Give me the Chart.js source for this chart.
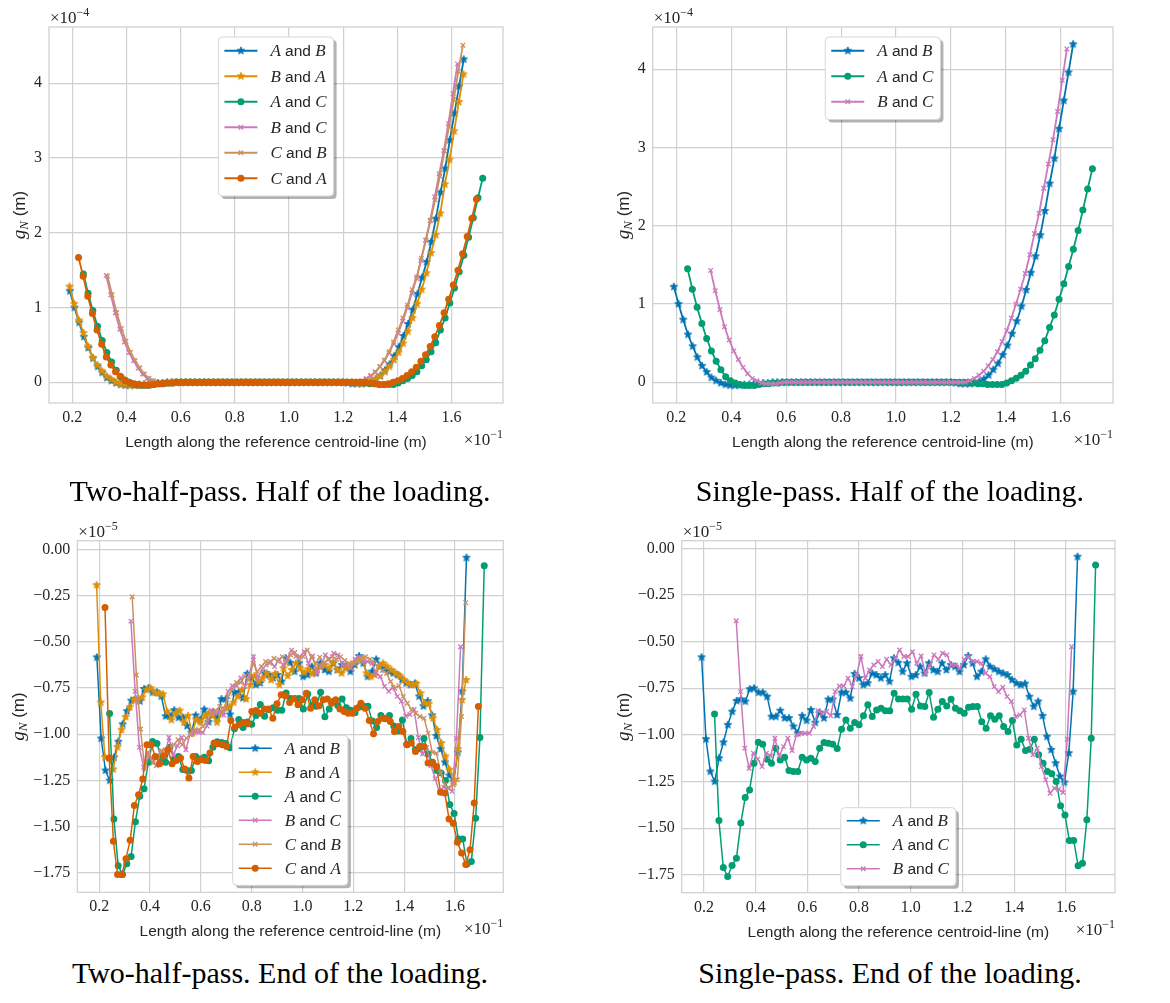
<!DOCTYPE html>
<html lang="en">
  <head>
    <meta charset="UTF-8" />
    <title>Normal gap along the centroid-line</title>
    <script src="https://cdn.jsdelivr.net/npm/chart.js"></script>
    <style>
      body { margin: 0; width: 1170px; height: 1003px; position: relative; background: #fff; overflow: hidden; }
      canvas { position: absolute; }
      .caption {
        position: absolute; width: 600px; text-align: center; white-space: nowrap;
        font: 30px 'Liberation Serif', serif; line-height: 30px; color: #000;
      }
    </style>
  </head>
  <body>
    <canvas id="twoHalfMid" width="585" height="470" style="left:0;top:0"></canvas>
    <canvas id="singleMid" width="585" height="470" style="left:585px;top:0"></canvas>
    <canvas id="twoHalfEnd" width="585" height="445" style="left:0;top:505px"></canvas>
    <canvas id="singleEnd" width="585" height="445" style="left:585px;top:505px"></canvas>
    <div class="caption" style="left:-20px;top:476px">Two-half-pass. Half of the loading.</div>
    <div class="caption" style="left:590px;top:476px">Single-pass. Half of the loading.</div>
    <div class="caption" style="left:-20px;top:958px">Two-half-pass. End of the loading.</div>
    <div class="caption" style="left:590px;top:958px">Single-pass. End of the loading.</div>

    <script>
      // first and last node of each contact pair along the centroid-line (x 1e-1 m)
      const spanAB = [0.191, 1.645];
      const spanBA = [0.190, 1.644];
      const spanAC = [0.241, 1.715];
      const spanBC = [0.325, 1.622];
      const spanCB = [0.330, 1.642];
      const spanCA = [0.223, 1.692];

      // normal gap g_N at half of the loading (x 1e-4 m), nodes evenly spaced over the span
      const midAB = [
        1.22, 1.00, 0.80, 0.61, 0.46, 0.32, 0.21, 0.13, 0.06, 0.02, -0.01, -0.03, -0.04,
        -0.04, -0.04, -0.03, -0.03, -0.02, -0.02, -0.01, -0.01,
        0, 0, 0, 0, 0, 0, 0, 0, 0, 0, 0, 0, 0,
        0, 0, 0, 0, 0, 0, 0, 0, 0, 0, 0, 0, 0,
        0, 0, 0, 0, 0, 0, 0, 0, 0, 0, 0, 0, 0,
        -0.01, -0.02, -0.02, -0.02, -0.01, 0.01, 0.04, 0.09, 0.16, 0.24, 0.35, 0.47, 0.62,
        0.78, 0.97, 1.18, 1.40, 1.61, 1.88, 2.19, 2.54, 2.86, 3.24, 3.60, 3.96, 4.32,
      ];
      const midBA = [
        1.28, 1.05, 0.83, 0.66, 0.48, 0.33, 0.23, 0.15, 0.08, 0.04, 0.00, -0.02, -0.03, -0.04,
        -0.04, -0.04, -0.03, -0.03, -0.02, -0.02, -0.01, -0.01,
        0, 0, 0, 0, 0, 0, 0, 0, 0, 0,
        0, 0, 0, 0, 0, 0, 0, 0, 0, 0,
        0, 0, 0, 0, 0, 0, 0, 0, 0, 0,
        0, 0, 0, 0, 0, 0, 0, 0, 0, 0,
        -0.01, -0.02, -0.01, 0.01, 0.04, 0.08, 0.14, 0.21, 0.30, 0.40, 0.52, 0.68,
        0.86, 1.05, 1.24, 1.46, 1.73, 1.97, 2.26, 2.65, 2.98, 3.36, 3.75, 4.12,
      ];
      const midAC = [
        1.45, 1.19, 0.96, 0.75, 0.56, 0.40, 0.27, 0.16, 0.07, 0.02,
        -0.01, -0.03, -0.04, -0.04, -0.04, -0.03, -0.02, -0.02, -0.01, -0.01,
        0, 0, 0, 0, 0, 0, 0, 0, 0, 0,
        0, 0, 0, 0, 0, 0, 0, 0, 0, 0,
        0, 0, 0, 0, 0, 0, 0, 0, 0, 0,
        0, 0, 0, 0, 0, 0, 0, 0, 0, 0,
        -0.01, -0.02, -0.02, -0.03, -0.03, -0.03, -0.03, -0.01, 0.02, 0.05, 0.09, 0.14, 0.22,
        0.30, 0.41, 0.53, 0.70, 0.86, 1.06, 1.26, 1.48, 1.70, 1.94, 2.20, 2.47, 2.73,
      ];
      const midBC = [
        1.43, 1.17, 0.93, 0.71, 0.54, 0.40, 0.29, 0.19, 0.11, 0.05, 0.02, -0.01,
        -0.02, -0.02, -0.02, -0.01,
        0, 0, 0, 0, 0, 0, 0, 0, 0, 0,
        0, 0, 0, 0, 0, 0, 0, 0, 0, 0,
        0, 0, 0, 0, 0, 0, 0, 0, 0, 0,
        0, 0, 0, 0, 0, 0, 0, 0, 0, 0,
        0.02, 0.05, 0.09, 0.14, 0.21, 0.29, 0.39, 0.52, 0.66, 0.82, 1.00,
        1.19, 1.39, 1.63, 1.90, 2.16, 2.48, 2.79, 3.10, 3.46, 3.86, 4.26,
      ];
      const midCB = [
        1.42, 1.17, 0.93, 0.72, 0.55, 0.40, 0.29, 0.19, 0.11, 0.05, 0.02, -0.01,
        -0.02, -0.02, -0.02, -0.01,
        0, 0, 0, 0, 0, 0, 0, 0, 0, 0,
        0, 0, 0, 0, 0, 0, 0, 0, 0, 0,
        0, 0, 0, 0, 0, 0, 0, 0, 0, 0,
        0, 0, 0, 0, 0, 0, 0, 0, 0, 0,
        0.03, 0.08, 0.13, 0.21, 0.30, 0.41, 0.54, 0.70, 0.86, 1.03, 1.24,
        1.41, 1.66, 1.90, 2.17, 2.44, 2.76, 3.09, 3.42, 3.78, 4.16, 4.51,
      ];
      const midCA = [
        1.67, 1.42, 1.15, 0.92, 0.70, 0.51, 0.34, 0.23, 0.14, 0.08, 0.03, 0.00,
        -0.02, -0.03, -0.04, -0.04, -0.03, -0.02, -0.02, -0.01, -0.01,
        0, 0, 0, 0, 0, 0, 0, 0, 0, 0, 0, 0, 0, 0,
        0, 0, 0, 0, 0, 0, 0, 0, 0, 0, 0, 0, 0, 0,
        0, 0, 0, 0, 0, 0, 0, 0, 0, 0, 0, 0, 0, 0,
        -0.01, -0.02, -0.03, -0.03, -0.02, 0.00, 0.02, 0.05, 0.09, 0.14, 0.20, 0.28,
        0.37, 0.48, 0.61, 0.76, 0.93, 1.11, 1.30, 1.50, 1.72, 1.95, 2.19, 2.45,
      ];

      // normal gap g_N at the end of the loading (x 1e-5 m)
      const endAB = [
        -0.584, -1.023, -1.196, -1.25, -1.125, -1.04, -0.946, -0.875, -0.818, -0.809,
        -0.821, -0.755, -0.75, -0.773, -0.773, -0.795, -0.902, -0.902, -0.87, -0.91,
        -0.91, -0.955, -0.99, -0.898, -0.923, -0.866, -0.934, -0.88, -0.91, -0.81,
        -0.81, -0.893, -0.773, -0.773, -0.804, -0.673, -0.696, -0.732, -0.723, -0.67,
        -0.679, -0.696, -0.679, -0.714, -0.589, -0.613, -0.661, -0.616, -0.688, -0.679,
        -0.634, -0.67, -0.616, -0.652, -0.661, -0.616, -0.652, -0.625, -0.634, -0.661,
        -0.625, -0.577, -0.616, -0.688, -0.661, -0.595, -0.634, -0.648, -0.661, -0.67,
        -0.679, -0.705, -0.723, -0.732, -0.725, -0.795, -0.848, -0.821, -0.898, -1.009,
        -1.08, -1.152, -1.223, -1.255, -1.098, -0.768, -0.045,
      ];
      const endBA = [
        -0.193, -0.828, -1.124, -1.13, -1.19, -1.07, -0.976, -0.907, -0.853, -0.814,
        -0.81, -0.80, -0.76, -0.751, -0.774, -0.778, -0.783, -0.877, -0.922, -0.886,
        -0.872, -0.936, -0.90, -0.994, -0.922, -0.936, -0.904, -0.886, -0.90, -0.936,
        -0.886, -0.859, -0.85, -0.828, -0.796, -0.76, -0.81, -0.733, -0.684, -0.715,
        -0.697, -0.67, -0.706, -0.673, -0.733, -0.643, -0.684, -0.652, -0.616, -0.643,
        -0.666, -0.648, -0.673, -0.652, -0.634, -0.625, -0.643, -0.612, -0.652, -0.67,
        -0.643, -0.634, -0.612, -0.594, -0.594, -0.67, -0.688, -0.679, -0.634, -0.616,
        -0.634, -0.652, -0.67, -0.684, -0.706, -0.724, -0.733, -0.727, -0.778, -0.832,
        -0.835, -0.913, -0.976, -1.048, -1.12, -1.192, -1.26, -1.08, -0.814, -0.706,
      ];
      const endAC = [
        -0.888, -1.459, -1.711, -1.759, -1.70, -1.661, -1.473, -1.336, -1.295, -1.152,
        -1.039, -1.05, -1.13, -1.152, -1.071, -1.134, -1.12, -1.191, -1.196, -1.196,
        -1.12, -1.134, -1.125, -1.143, -1.071, -1.041, -1.045, -1.05, -1.073, -0.97,
        -0.92, -0.964, -0.934, -0.946, -0.898, -0.839, -0.902, -0.866, -0.857, -0.87,
        -0.87, -0.777, -0.807, -0.807, -0.807, -0.863, -0.782, -0.845, -0.848, -0.773,
        -0.905, -0.863, -0.821, -0.845, -0.809, -0.857, -0.87, -0.884, -0.852, -0.848,
        -0.848, -0.929, -0.964, -0.898, -0.916, -0.898, -0.955, -0.982, -0.923, -1.054,
        -1.023, -1.084, -1.077, -1.023, -1.107, -1.152, -1.196, -1.209, -1.25, -1.38,
        -1.429, -1.566, -1.566, -1.702, -1.688, -1.455, -1.018, -0.089,
      ];
      const endBC = [
        -0.388, -0.768, -1.071, -1.179, -1.098, -1.13, -1.17, -1.098, -1.113, -1.018,
        -1.113, -1.063, -1.018, -1.084, -1.0, -0.991, -0.991, -0.991, -0.955, -0.87,
        -0.884, -0.875, -0.898, -0.768, -0.738, -0.738, -0.696, -0.741, -0.679, -0.58,
        -0.696, -0.652, -0.625, -0.607, -0.634, -0.595, -0.625, -0.589, -0.545, -0.58,
        -0.58, -0.554, -0.616, -0.577, -0.67, -0.63, -0.571, -0.595, -0.562, -0.571,
        -0.625, -0.625, -0.643, -0.595, -0.58, -0.607, -0.607, -0.616, -0.67, -0.688,
        -0.741, -0.768, -0.745, -0.795, -0.821, -0.902, -0.893, -0.866, -1.018, -1.107,
        -1.071, -1.17, -1.241, -1.313, -1.286, -1.291, -1.309, -1.023, -0.527,
      ];
      const endCB = [
        -0.256, -0.679, -0.972, -1.188, -1.111, -1.156, -1.12, -1.088, -1.084, -1.075,
        -1.057, -1.03, -1.057, -1.021, -1.003, -0.976, -0.976, -0.958, -0.922, -0.886,
        -0.872, -0.85, -0.864, -0.796, -0.756, -0.72, -0.72, -0.688, -0.706, -0.616,
        -0.661, -0.634, -0.607, -0.616, -0.589, -0.607, -0.58, -0.616, -0.571, -0.558,
        -0.589, -0.58, -0.544, -0.583, -0.616, -0.583, -0.616, -0.594, -0.58, -0.594,
        -0.58, -0.601, -0.616, -0.616, -0.607, -0.589, -0.58, -0.594, -0.612, -0.634,
        -0.655, -0.67, -0.715, -0.751, -0.738, -0.796, -0.832, -0.868, -0.886, -0.904,
        -0.913, -0.994, -1.098, -1.102, -1.21, -1.273, -1.291, -1.273, -1.246, -0.904,
        -0.288,
      ];
      const endCA = [
        -0.315, -1.129, -1.579, -1.759, -1.759, -1.673, -1.574, -1.386, -1.327, -1.242,
        -1.057, -1.057, -1.12, -1.16, -1.116, -1.084, -1.16, -1.142, -1.129, -1.188,
        -1.237, -1.12, -1.147, -1.138, -1.142, -1.102, -1.048, -1.052, -1.057, -1.066,
        -0.925, -0.961, -0.949, -0.936, -0.943, -0.877, -0.871, -0.886, -0.864, -0.864,
        -0.913, -0.835, -0.787, -0.792, -0.828, -0.81, -0.841, -0.814, -0.778, -0.859,
        -0.814, -0.846, -0.814, -0.81, -0.832, -0.814, -0.864, -0.877, -0.886, -0.886,
        -0.859, -0.832, -0.859, -0.925, -0.997, -0.931, -0.913, -0.913, -0.931, -0.985,
        -0.958, -0.985, -1.057, -1.048, -1.093, -1.066, -1.066, -1.156, -1.156, -1.174,
        -1.314, -1.318, -1.458, -1.482, -1.584, -1.643, -1.705, -1.625, -1.372, -0.85,
      ];

      const SERIF = "'Liberation Serif', 'DejaVu Serif', serif";
      const SANS = "'Liberation Sans', 'DejaVu Sans', sans-serif";
      const INK = '#262626';
      const GRID = '#d0d0d0';

      const pairStyle = {
        AB: { color: '#0173b2', marker: 'star', names: ['A', 'B'] },
        BA: { color: '#de8f05', marker: 'star', names: ['B', 'A'] },
        AC: { color: '#029e73', marker: 'circle', names: ['A', 'C'] },
        BC: { color: '#cc78bc', marker: 'cross', names: ['B', 'C'] },
        CB: { color: '#ca9161', marker: 'cross', names: ['C', 'B'] },
        CA: { color: '#d55e00', marker: 'circle', names: ['C', 'A'] },
      };

      // small filled five-point star, used as a point image
      function starImage(color, r) {
        const c = document.createElement('canvas');
        const s = Math.ceil(r * 2 + 2);
        c.width = c.height = s;
        const g = c.getContext('2d');
        g.translate(s / 2, s / 2);
        g.beginPath();
        for (let k = 0; k < 10; k++) {
          const rad = k % 2 ? r * 0.45 : r;
          const ang = -Math.PI / 2 + (k * Math.PI) / 5;
          g.lineTo(rad * Math.cos(ang), rad * Math.sin(ang));
        }
        g.closePath();
        g.fillStyle = color;
        g.fill();
        g.lineWidth = 0.8;
        g.strokeStyle = color;
        g.stroke();
        return c;
      }

      function series(pair, span, values, lw, i) {
        const st = pairStyle[pair];
        const step = (span[1] - span[0]) / (values.length - 1);
        let pointStyle = 'circle';
        if (st.marker === 'star') pointStyle = starImage(st.color, 4);
        if (st.marker === 'cross') pointStyle = 'crossRot';
        return {
          label: st.names.join(' and '),
          pair,
          data: values.map((y, k) => ({ x: span[0] + k * step, y })),
          borderColor: st.color,
          backgroundColor: st.color,
          borderWidth: lw,
          pointStyle,
          pointRadius: st.marker === 'cross' ? 3.2 : 3.5,
          pointBorderWidth: st.marker === 'cross' ? 1.3 : 0,
          pointBorderColor: st.color,
          pointBackgroundColor: st.color,
          pointHoverRadius: 3.5,
          tension: 0,
          fill: false,
          order: -i,
        };
      }

      function runsWidth(ctx, runs) {
        let w = 0;
        for (const r of runs) {
          ctx.font = r.font;
          w += ctx.measureText(r.text).width;
        }
        return w;
      }

      function drawRuns(ctx, runs, x, y) {
        for (const r of runs) {
          ctx.font = r.font;
          ctx.fillText(r.text, x, y + (r.dy || 0));
          x += ctx.measureText(r.text).width;
        }
      }

      const mathFont = (px) => `italic ${px}px ${SERIF}`;

      function pairRuns(names) {
        return [
          { text: names[0], font: mathFont(17) },
          { text: ' and ', font: `15.5px ${SANS}` },
          { text: names[1], font: mathFont(17) },
        ];
      }

      function roundRectPath(ctx, x, y, w, h, r) {
        ctx.beginPath();
        ctx.moveTo(x + r, y);
        ctx.arcTo(x + w, y, x + w, y + h, r);
        ctx.arcTo(x + w, y + h, x, y + h, r);
        ctx.arcTo(x, y + h, x, y, r);
        ctx.arcTo(x, y, x + w, y, r);
        ctx.closePath();
      }

      function drawMarker(ctx, d, x, y) {
        const st = d.pointStyle;
        if (st instanceof HTMLCanvasElement) {
          ctx.drawImage(st, x - st.width / 2, y - st.height / 2);
        } else if (st === 'circle') {
          ctx.beginPath();
          ctx.arc(x, y, d.pointRadius, 0, Math.PI * 2);
          ctx.fillStyle = d.borderColor;
          ctx.fill();
        } else {
          const o = d.pointRadius * Math.SQRT1_2;
          ctx.beginPath();
          ctx.moveTo(x - o, y - o);
          ctx.lineTo(x + o, y + o);
          ctx.moveTo(x - o, y + o);
          ctx.lineTo(x + o, y - o);
          ctx.strokeStyle = d.borderColor;
          ctx.lineWidth = d.pointBorderWidth;
          ctx.stroke();
        }
      }

      function drawLegend(chart, o) {
        const { ctx, chartArea: a } = chart;
        const sets = chart.data.datasets;
        const runs = sets.map((d) => pairRuns(pairStyle[d.pair].names));
        const textW = Math.max(...runs.map((r) => runsWidth(ctx, r)));
        const w = 6 + 33 + 13 + textW + 7;
        const h = sets.length * o.rowH + 6;
        const x = (a.left + a.right) / 2 - w / 2;
        const y = o.legendLoc === 'upper' ? a.top + 10 : a.bottom - 7 - h;

        ctx.save();
        roundRectPath(ctx, x + 3, y + 3, w, h, 4);
        ctx.fillStyle = 'rgba(0, 0, 0, 0.3)';
        ctx.fill();
        roundRectPath(ctx, x, y, w, h, 4);
        ctx.fillStyle = '#ffffff';
        ctx.fill();
        ctx.strokeStyle = '#d6d6d6';
        ctx.lineWidth = 1;
        ctx.stroke();

        sets.forEach((d, i) => {
          const cy = y + 1 + o.rowH * (i + 0.5);
          ctx.beginPath();
          ctx.moveTo(x + 6, cy);
          ctx.lineTo(x + 39, cy);
          ctx.strokeStyle = d.borderColor;
          ctx.lineWidth = d.borderWidth;
          ctx.stroke();
          drawMarker(ctx, d, x + 22.5, cy);
          ctx.fillStyle = INK;
          drawRuns(ctx, runs[i], x + 52, cy + 5.5);
        });
        ctx.restore();
      }

      // axes frame, scale multipliers, axis titles and the legend
      const panelDecor = {
        id: 'panelDecor',
        beforeDatasetsDraw(chart) {
          const { ctx, chartArea: a } = chart;
          ctx.save();
          ctx.strokeStyle = GRID;
          ctx.lineWidth = 1.25;
          ctx.strokeRect(a.left, a.top, a.right - a.left, a.bottom - a.top);
          ctx.restore();
        },
        afterDraw(chart, args, o) {
          const { ctx, chartArea: a } = chart;
          ctx.save();
          ctx.fillStyle = INK;
          ctx.textBaseline = 'alphabetic';
          ctx.textAlign = 'left';

          drawRuns(ctx, [
            { text: '×10', font: `17px ${SERIF}` },
            { text: '−' + o.yExp, font: `12px ${SERIF}`, dy: -7 },
          ], a.left + 1, a.top - 4);

          const xm = [
            { text: '×10', font: `17px ${SERIF}` },
            { text: '−1', font: `12px ${SERIF}`, dy: -7 },
          ];
          drawRuns(ctx, xm, a.right - runsWidth(ctx, xm), a.bottom + 42);

          ctx.font = `15.5px ${SANS}`;
          ctx.textAlign = 'center';
          ctx.fillText('Length along the reference centroid-line (m)', (a.left + a.right) / 2, a.bottom + 44);
          ctx.textAlign = 'left';

          ctx.font = `16px ${SERIF}`;
          const labelW = Math.max(...chart.scales.y.ticks.map((t) => ctx.measureText(t.label).width));
          const yt = [
            { text: 'g', font: mathFont(19) },
            { text: 'N', font: mathFont(13), dy: 3 },
            { text: ' (m)', font: `17px ${SANS}` },
          ];
          ctx.translate(a.left - 7 - labelW - 9, (a.top + a.bottom) / 2);
          ctx.rotate(-Math.PI / 2);
          drawRuns(ctx, yt, -runsWidth(ctx, yt) / 2, 0);
          ctx.restore();

          drawLegend(chart, o);
        },
      };

      function makeChart(id, datasets, o) {
        return new Chart(document.getElementById(id), {
          type: 'line',
          data: { datasets },
          options: {
            responsive: false,
            animation: false,
            devicePixelRatio: 1,
            layout: { padding: { top: o.padTop, right: o.padRight, left: 0, bottom: 0 } },
            plugins: {
              legend: { display: false },
              tooltip: { enabled: false },
              panelDecor: o,
            },
            scales: {
              x: {
                type: 'linear',
                min: 0.114,
                max: 1.79,
                border: { display: false },
                grid: { color: GRID, lineWidth: 1.2, drawTicks: false },
                ticks: {
                  stepSize: 0.2,
                  includeBounds: false,
                  maxRotation: 0,
                  padding: 5,
                  color: INK,
                  font: { family: SERIF, size: 16 },
                  callback: (v) => v.toFixed(1),
                },
                afterFit: (s) => { s.height = o.xHeight; },
              },
              y: {
                min: o.yMin,
                max: o.yMax,
                border: { display: false },
                grid: { color: GRID, lineWidth: 1.2, drawTicks: false },
                ticks: {
                  stepSize: o.yStep,
                  includeBounds: false,
                  padding: 7,
                  color: INK,
                  font: { family: SERIF, size: 16 },
                  callback: (v) => v.toFixed(o.yDigits).replace('-', '−'),
                },
                afterFit: (s) => { s.width = o.yWidth; },
              },
            },
          },
          plugins: [panelDecor],
        });
      }

      makeChart('twoHalfMid', [
        series('AB', spanAB, midAB, 1.8, 0),
        series('BA', spanBA, midBA, 1.8, 1),
        series('AC', spanAC, midAC, 1.8, 2),
        series('BC', spanBC, midBC, 1.8, 3),
        series('CB', spanCB, midCB, 1.8, 4),
        series('CA', spanCA, midCA, 1.8, 5),
      ], {
        yMin: -0.277, yMax: 4.753, yStep: 1, yDigits: 0, yExp: '4',
        legendLoc: 'upper', rowH: 25.5,
        yWidth: 49, xHeight: 67, padTop: 27, padRight: 82,
      });

      makeChart('singleMid', [
        series('AB', spanAB, midAB, 1.8, 0),
        series('AC', spanAC, midAC, 1.8, 1),
        series('BC', spanBC, midBC, 1.8, 2),
      ], {
        yMin: -0.265, yMax: 4.54, yStep: 1, yDigits: 0, yExp: '4',
        legendLoc: 'upper', rowH: 25.5,
        yWidth: 67.7, xHeight: 67, padTop: 27, padRight: 57,
      });

      makeChart('twoHalfEnd', [
        series('AB', spanAB, endAB, 1.5, 0),
        series('BA', spanBA, endBA, 1.5, 1),
        series('AC', spanAC, endAC, 1.5, 2),
        series('BC', spanBC, endBC, 1.5, 3),
        series('CB', spanCB, endCB, 1.5, 4),
        series('CA', spanCA, endCA, 1.5, 5),
      ], {
        yMin: -1.855, yMax: 0.047, yStep: 0.25, yDigits: 2, yExp: '5',
        legendLoc: 'lower', rowH: 24,
        yWidth: 77.3, xHeight: 57.7, padTop: 35.7, padRight: 81.7,
      });

      makeChart('singleEnd', [
        series('AB', spanAB, endAB, 1.5, 0),
        series('AC', spanAC, endAC, 1.5, 1),
        series('BC', spanBC, endBC, 1.5, 2),
      ], {
        yMin: -1.846, yMax: 0.041, yStep: 0.25, yDigits: 2, yExp: '5',
        legendLoc: 'lower', rowH: 24,
        yWidth: 96.7, xHeight: 57.3, padTop: 35.7, padRight: 55,
      });
    </script>
  </body>
</html>
